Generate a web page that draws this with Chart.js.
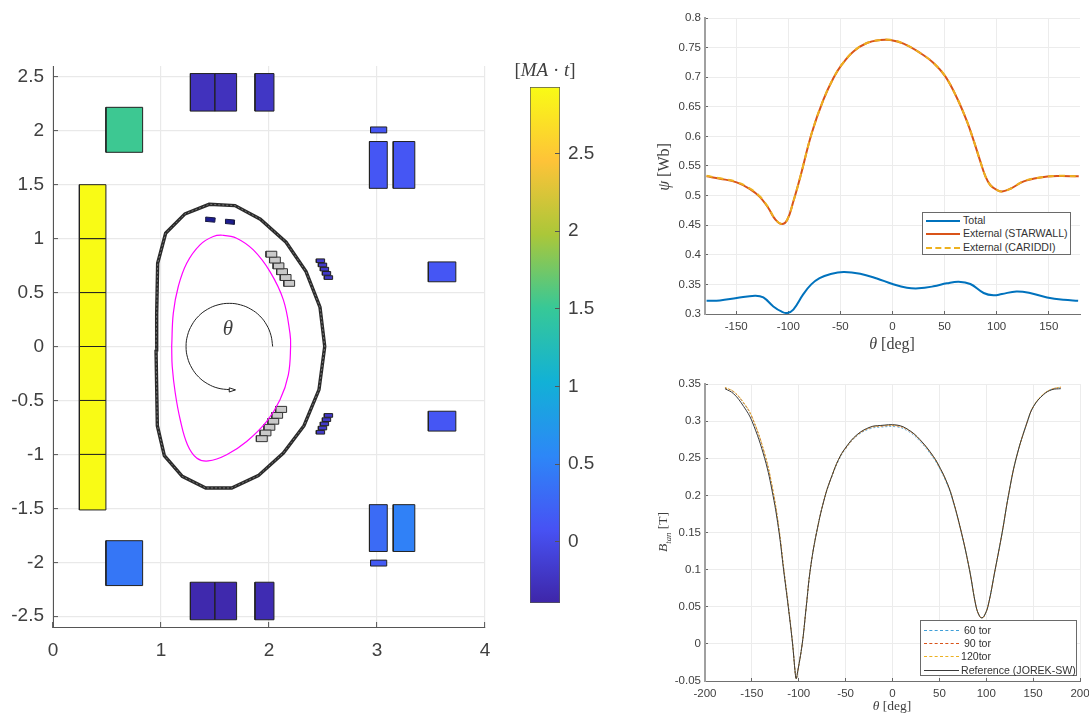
<!DOCTYPE html>
<html>
<head>
<meta charset="utf-8">
<script src="https://cdn.jsdelivr.net/npm/chart.js@4/dist/chart.umd.min.js"></script>
<style>
  html, body { margin: 0; padding: 0; background: #fff; }
  #page { position: relative; width: 1089px; height: 713px; overflow: hidden; }
  canvas { position: absolute; }
  .math { position: absolute; font-family: "Liberation Serif", serif; color: #404040; white-space: pre; line-height: 1; transform: translate(-50%, -50%); }
  .math sub { font-size: 0.65em; line-height: 0; }
  .rot { transform: translate(-50%, -50%) rotate(-90deg); }
  .legend { position: absolute; background: #fff; border: 1px solid #6a6a6a; box-sizing: border-box; font: 10.6px "Liberation Sans", sans-serif; color: #333; }
  .legend div { position: absolute; white-space: pre; line-height: 13px; }
  .legend span { position: absolute; height: 0; }
</style>
</head>
<body>
<div id="page">
  <canvas id="machine" width="510" height="660" style="left:0;top:0"></canvas>
  <canvas id="colorbar" width="100" height="620" style="left:500px;top:40px"></canvas>
  <canvas id="flux" width="459" height="360" style="left:630px;top:0"></canvas>
  <canvas id="field" width="459" height="343" style="left:630px;top:370px"></canvas>

  <div class="math" style="left:228px;top:328px;font-size:21px"><i>θ</i></div>
  <div class="math" style="left:545px;top:69px;font-size:19px">[<i>MA</i> · <i>t</i>]</div>
  <div class="math rot" style="left:664px;top:167px;font-size:16px"><i>ψ</i> [Wb]</div>
  <div class="math" style="left:892px;top:344px;font-size:16px"><i>θ</i> [deg]</div>
  <div class="math rot" style="left:663px;top:532px;font-size:13.5px"><i>B</i><sub><i>tan</i></sub> [T]</div>
  <div class="math" style="left:892px;top:706px;font-size:13.5px"><i>θ</i> [deg]</div>

  <div class="legend" id="fluxLegend" style="left:922px;top:212px;width:149px;height:43px"></div>
  <div class="legend" id="fieldLegend" style="left:920px;top:620px;width:157px;height:56px"></div>
</div>
<script>
// machine cross-section: [R0, R1, Z0, Z1]
const coilRects = [
    [0.244, 0.49, 1.0, 1.5], [0.244, 0.49, 0.5, 1.0], [0.244, 0.49, 0, 0.5],
    [0.244, 0.49, -0.5, 0], [0.244, 0.49, -1.0, -0.5], [0.244, 0.49, -1.515, -1.0],
    [0.49, 0.83, 1.8, 2.217], [0.49, 0.83, -2.216, -1.8],
    [1.272, 1.497, 2.182, 2.53], [1.497, 1.7, 2.182, 2.53], [1.87, 2.046, 2.182, 2.53],
    [1.272, 1.497, -2.533, -2.185], [1.497, 1.7, -2.533, -2.185], [1.87, 2.046, -2.533, -2.185],
    [2.93, 3.095, 1.466, 1.9], [3.15, 3.35, 1.466, 1.9], [2.94, 3.09, 1.98, 2.035],
    [2.93, 3.095, -1.9, -1.466], [3.15, 3.35, -1.9, -1.466], [2.94, 3.09, -2.035, -1.98],
    [3.475, 3.73, 0.6, 0.784], [3.475, 3.73, -0.784, -0.6],
    [2.438, 2.515, 0.778, 0.812], [2.457, 2.534, 0.739, 0.773], [2.475, 2.552, 0.7, 0.734],
    [2.494, 2.571, 0.661, 0.695], [2.512, 2.589, 0.622, 0.656],
    [2.438, 2.515, -0.812, -0.778], [2.457, 2.534, -0.773, -0.739], [2.475, 2.552, -0.734, -0.7],
    [2.494, 2.571, -0.695, -0.661], [2.512, 2.589, -0.656, -0.622]
];
const coilCurrents = [
    2.927, 2.927, 2.927, 2.927, 2.927, 2.927,
    1.53, 0.4,
    -0.26, -0.26, -0.21,
    -0.36, -0.36, -0.33,
    0.12, 0.12, 0.12,
    0.3, 0.5, 0.15,
    0.12, 0.12,
    -0.19, -0.19, -0.19, -0.19, -0.19,
    -0.19, -0.19, -0.19, -0.19, -0.19
];
const greyRects = [
    [1.972, 2.072, 0.828, 0.883], [2.005, 2.105, 0.774, 0.829], [2.038, 2.138, 0.72, 0.775],
    [2.071, 2.171, 0.666, 0.721], [2.104, 2.204, 0.612, 0.667], [2.137, 2.237, 0.558, 0.613],
    [1.883, 1.984, -0.882, -0.827], [1.917, 2.018, -0.828, -0.775], [1.953, 2.054, -0.776, -0.722],
    [1.99, 2.09, -0.72, -0.667], [2.026, 2.126, -0.665, -0.612], [2.062, 2.163, -0.611, -0.555]
];
const divertorR = [1.414, 1.502, 1.498, 1.41, 1.414];
const divertorZ = [1.2, 1.192, 1.152, 1.16, 1.2];
const divertor2R = [1.597, 1.682, 1.678, 1.593, 1.597];
const divertor2Z = [1.18, 1.172, 1.132, 1.14, 1.18];

const wallR = [0.954, 0.96, 0.969, 1.043, 1.222, 1.446, 1.685, 1.92, 2.158, 2.343, 2.472, 2.516, 2.463, 2.324, 2.133, 1.901, 1.655, 1.414, 1.197, 1.031, 0.966, 0.954];
const wallZ = [-0.03, 0.3, 0.772, 1.05, 1.229, 1.318, 1.306, 1.18, 0.967, 0.694, 0.365, 0, -0.4, -0.734, -0.987, -1.197, -1.311, -1.311, -1.204, -1.012, -0.734, -0.03];
const plasmaR = [1.099, 1.114, 1.16, 1.238, 1.361, 1.484, 1.571, 1.7, 1.855, 2.009, 2.133, 2.194, 2.2, 2.179, 2.102, 1.979, 1.793, 1.608, 1.438, 1.33, 1.245, 1.178, 1.132, 1.104, 1.099];
const plasmaZ = [0, 0.309, 0.556, 0.772, 0.942, 1.019, 1.031, 1.004, 0.895, 0.694, 0.432, 0.124, 0, -0.262, -0.494, -0.694, -0.88, -1.003, -1.061, -1.033, -0.91, -0.679, -0.431, -0.185, 0];
const arcR = [2.034, 2.018, 1.978, 1.915, 1.832, 1.736, 1.632, 1.528, 1.432, 1.349, 1.286, 1.246, 1.232, 1.246, 1.286, 1.349, 1.432, 1.528, 1.632, 1.685];
const arcZ = [0, 0.104, 0.2, 0.283, 0.346, 0.386, 0.4, 0.386, 0.346, 0.283, 0.2, 0.104, 0, -0.104, -0.2, -0.283, -0.346, -0.386, -0.4, -0.402];
const arrowR = [1.632, 1.69, 1.632, 1.632];
const arrowZ = [-0.383, -0.402, -0.422, -0.383];

const machineRTicks = [0, 1, 2, 3, 4];
const machineZTicks = [-2.5, -2, -1.5, -1, -0.5, 0, 0.5, 1, 1.5, 2, 2.5];
const colorbarTicks = [0, 0.5, 1, 1.5, 2, 2.5];
const colorbarRange = [-0.394, 2.927];
const parulaStops = ["#3E26A8", "#4752F4", "#2D87F7", "#12B1D6", "#37C897", "#ABC739", "#FEC338", "#F9FB15"];

// top right: poloidal flux along the contour
const totalTheta = [-178.5, -165.7, -149.6, -132, -124, -114.4, -106.3, -101, -95.2, -85.6, -78, -70, -60, -47, -31, -15, 0, 13.8, 25, 39.4, 52.2, 63.5, 74.7, 87.5, 97, 105, 119, 132, 148.4, 164.4, 178.2];
const totalPsi = [0.3225, 0.323, 0.327, 0.331, 0.328, 0.3128, 0.3039, 0.3017, 0.3073, 0.3335, 0.35, 0.3605, 0.3672, 0.371, 0.368, 0.36, 0.3507, 0.3445, 0.3434, 0.3467, 0.3518, 0.3546, 0.3507, 0.3355, 0.3315, 0.3338, 0.338, 0.3355, 0.328, 0.324, 0.3225];
const externalTheta = [-178.5, -165.7, -149.6, -136.8, -127.2, -119.2, -112.8, -106.3, -101, -95.2, -88.8, -77.5, -66.3, -56.7, -48.7, -37.5, -24.6, -11.8, -2.2, 10.6, 26.6, 39.4, 50.7, 61.9, 71.5, 78, 84, 89, 94, 100.4, 105.2, 113.2, 126, 140.4, 158, 178.8];
const starwallPsi = [0.5325, 0.5286, 0.5224, 0.511, 0.4975, 0.479, 0.4605, 0.452, 0.4593, 0.49, 0.5297, 0.6057, 0.662, 0.6986, 0.7211, 0.7436, 0.7578, 0.7628, 0.7628, 0.7566, 0.7409, 0.724, 0.7014, 0.6649, 0.6253, 0.5925, 0.5595, 0.5335, 0.5175, 0.5095, 0.5071, 0.5116, 0.524, 0.5303, 0.5331, 0.5325];
const cariddiPsi = [0.5335, 0.5292, 0.523, 0.512, 0.4985, 0.48, 0.4608, 0.4522, 0.4595, 0.49, 0.5297, 0.6057, 0.662, 0.6986, 0.7211, 0.7436, 0.7578, 0.7628, 0.7632, 0.7566, 0.7409, 0.724, 0.7014, 0.6649, 0.6253, 0.5925, 0.5595, 0.5335, 0.5175, 0.5095, 0.5068, 0.5116, 0.5245, 0.5303, 0.5335, 0.5325];
const fluxThetaTicks = [-150, -100, -50, 0, 50, 100, 150];
const fluxPsiTicks = [0.3, 0.35, 0.4, 0.45, 0.5, 0.55, 0.6, 0.65, 0.7, 0.75, 0.8];

// bottom right: tangential field along the contour
const fieldTheta = [-178.7, -169.5, -158.8, -149.9, -136.4, -127.5, -121, -116.2, -111.2, -106.6, -103.7, -102.7, -101.5, -96.3, -92, -87.7, -81, -71.7, -64, -57.5, -50.4, -38, -23.8, -13.1, 4.7, 17.1, 29.5, 43.7, 50.9, 57, 63, 73.5, 82.1, 89.2, 93, 95.3, 97.5, 101.7, 109.5, 117, 123.7, 131.9, 144, 150.5, 161, 170, 179.5];
const referenceB = [0.3437, 0.3369, 0.3198, 0.3, 0.25, 0.2, 0.15, 0.1, 0.05, 0, -0.04, -0.047, -0.04, 0, 0.05, 0.1, 0.15, 0.2, 0.2285, 0.2485, 0.2636, 0.2816, 0.292, 0.2941, 0.2947, 0.2883, 0.2748, 0.2523, 0.2366, 0.2205, 0.2, 0.15, 0.1, 0.05, 0.037, 0.035, 0.037, 0.05, 0.1, 0.15, 0.2, 0.25, 0.3, 0.32, 0.3356, 0.3423, 0.3437];
const tor120B = [0.3452, 0.34, 0.325, 0.306, 0.2565, 0.2065, 0.1545, 0.103, 0.052, 0.001, -0.04, -0.047, -0.04, 0, 0.05, 0.1, 0.15, 0.2, 0.2285, 0.2485, 0.263, 0.281, 0.2915, 0.2935, 0.294, 0.288, 0.2745, 0.252, 0.2362, 0.2202, 0.2, 0.15, 0.1, 0.05, 0.037, 0.035, 0.037, 0.05, 0.1, 0.15, 0.2, 0.25, 0.3, 0.3205, 0.3365, 0.343, 0.346];
const tor90B = [0.345, 0.3395, 0.3245, 0.3055, 0.256, 0.206, 0.154, 0.103, 0.052, 0.001, -0.04, -0.047, -0.04, 0, 0.05, 0.1, 0.15, 0.2, 0.228, 0.248, 0.2625, 0.2805, 0.291, 0.293, 0.2935, 0.2875, 0.274, 0.2515, 0.2358, 0.22, 0.2, 0.15, 0.1, 0.05, 0.037, 0.035, 0.037, 0.05, 0.1, 0.15, 0.2, 0.25, 0.3, 0.32, 0.336, 0.343, 0.3455];
const tor60B = [0.345, 0.3395, 0.324, 0.305, 0.2555, 0.2055, 0.1535, 0.1025, 0.0515, 0.0005, -0.04, -0.047, -0.04, 0, 0.05, 0.1, 0.15, 0.1995, 0.2275, 0.247, 0.262, 0.28, 0.2898, 0.2918, 0.2922, 0.286, 0.2725, 0.25, 0.2345, 0.2185, 0.1985, 0.1495, 0.1, 0.05, 0.037, 0.035, 0.037, 0.05, 0.1, 0.15, 0.2, 0.25, 0.3, 0.32, 0.336, 0.343, 0.3455];
const fieldThetaTicks = [-200, -150, -100, -50, 0, 50, 100, 150, 200];
const fieldBTicks = [-0.05, 0, 0.05, 0.1, 0.15, 0.2, 0.25, 0.3, 0.35];

const TICK_FONT = "Liberation Sans";
const TEXT = "#404040";

const points = (xs, ys) => xs.map((x, i) => ({ x, y: ys[i] }));
const rectPoints = ([r0, r1, z0, z1]) => [{ x: r0, y: z0 }, { x: r1, y: z0 }, { x: r1, y: z1 }, { x: r0, y: z1 }, { x: r0, y: z0 }];

function hexToRgb(hex) {
    return [1, 3, 5].map(i => parseInt(hex.slice(i, i + 2), 16));
}

// colour of a current value on the colour bar
function parula(value) {
    const t = (value - colorbarRange[0]) / (colorbarRange[1] - colorbarRange[0]);
    const pos = Math.min(Math.max(t, 0), 1) * (parulaStops.length - 1);
    const i = Math.min(Math.floor(pos), parulaStops.length - 2);
    const a = hexToRgb(parulaStops[i]);
    const b = hexToRgb(parulaStops[i + 1]);
    const mix = a.map((c, k) => Math.round(c + (b[k] - c) * (pos - i)));
    return `rgb(${mix.join(",")})`;
}

function polygon(data, fillColor, edgeColor, width) {
    return { data, showLine: true, fill: "shape", backgroundColor: fillColor, borderColor: edgeColor, borderWidth: width, pointRadius: 0, tension: 0 };
}

function curve(data, color, width, extra) {
    return Object.assign({ data, showLine: true, fill: false, borderColor: color, borderWidth: width, pointRadius: 0, tension: 0.4 }, extra);
}

// fixed axis thickness so the plot area lands where the reference has it
function axisCallbacks(tickValues, thickness) {
    return {
        afterBuildTicks: scale => { scale.ticks = tickValues.map(value => ({ value })); },
        afterFit: scale => {
            if (scale.isHorizontal()) scale.height = thickness; else scale.width = thickness;
            scale.paddingLeft = scale.paddingRight = scale.paddingTop = scale.paddingBottom = 0;
        }
    };
}

function linearAxis(min, max, tickValues, thickness, style) {
    return Object.assign({
        type: "linear",
        min,
        max,
        grid: { color: style.grid, lineWidth: style.gridWidth, tickColor: style.tick, tickWidth: 1, tickLength: -style.tickLength },
        border: { color: style.border, width: style.borderWidth },
        ticks: {
            color: TEXT,
            font: { family: TICK_FONT, size: style.fontSize },
            padding: style.padding,
            autoSkip: false,
            maxRotation: 0,
            callback: value => String(value)
        }
    }, axisCallbacks(tickValues, thickness));
}

function baseOptions(padding, scales) {
    return {
        responsive: false,
        animation: false,
        devicePixelRatio: 1,
        layout: { padding },
        plugins: { legend: { display: false }, tooltip: { enabled: false } },
        scales
    };
}

// machine panel
const machineDatasets = [
    polygon(points(arrowR, arrowZ), "#ffffff", "#222222", 1),
    curve(points(arcR, arcZ), "#222222", 1),
    curve(points(plasmaR, plasmaZ), "#FF00FF", 1.2),
    curve(points(wallR, wallZ), "#777777", 1, { tension: 0, borderDash: [2, 2] }),
    curve(points(wallR, wallZ), "#2a2a2a", 3.4, { tension: 0 }),
    polygon(points(divertorR, divertorZ), "#1c1c90", "#1a1a40", 1),
    polygon(points(divertor2R, divertor2Z), "#1c1c90", "#1a1a40", 1)
];
greyRects.forEach(r => machineDatasets.push(polygon(rectPoints(r), "#c9c9c9", "#333333", 1)));
coilRects.forEach((r, i) => machineDatasets.push(polygon(rectPoints(r), parula(coilCurrents[i]), "#222222", 1)));

const machineStyle = { grid: "#e9e9e9", gridWidth: 1.2, tick: "#555555", tickLength: 5, border: "#555555", borderWidth: 1, fontSize: 19 };

new Chart(document.getElementById("machine"), {
    type: "scatter",
    data: { datasets: machineDatasets },
    options: baseOptions({ top: 66, right: 25, bottom: 0, left: 0 }, {
        x: linearAxis(0, 4, machineRTicks, 33, Object.assign({}, machineStyle, { padding: 17 })),
        y: linearAxis(-2.6, 2.6, machineZTicks, 53, Object.assign({}, machineStyle, { padding: 14 }))
    })
});

// colour bar
const barScale = axisCallbacks(colorbarTicks, 40);
new Chart(document.getElementById("colorbar"), {
    type: "bar",
    data: {
        labels: [""],
        datasets: [{
            data: [colorbarRange],
            barPercentage: 1,
            categoryPercentage: 1,
            borderColor: "#555555",
            borderWidth: 1,
            borderSkipped: false,
            backgroundColor: ctx => {
                const area = ctx.chart.chartArea;
                if (!area) return parulaStops[0];
                const gradient = ctx.chart.ctx.createLinearGradient(0, area.bottom, 0, area.top);
                parulaStops.forEach((c, i) => gradient.addColorStop(i / (parulaStops.length - 1), c));
                return gradient;
            }
        }]
    },
    options: baseOptions({ top: 47, right: 0, bottom: 57, left: 30 }, {
        x: { display: false },
        y: Object.assign({
            type: "linear",
            position: "right",
            min: colorbarRange[0],
            max: colorbarRange[1],
            grid: { z: 1, drawOnChartArea: false, tickColor: "#555555", tickWidth: 1, tickLength: -5 },
            border: { display: false },
            ticks: { color: TEXT, font: { family: TICK_FONT, size: 19 }, padding: 13, autoSkip: false, callback: value => String(value) }
        }, barScale)
    })
});

const sideStyle = { grid: "#ececec", gridWidth: 1, tick: "#666666", tickLength: 3, border: "#a0a0a0", borderWidth: 2, fontSize: 11.5 };
const sideBottom = Object.assign({}, sideStyle, { border: "#707070", borderWidth: 1, padding: 9 });
const sideLeft = Object.assign({}, sideStyle, { padding: 7 });

function thetaCurve(label, xs, ys, color, width, dash) {
    return {
        label,
        data: points(xs, ys),
        showLine: true,
        fill: false,
        borderColor: color,
        borderWidth: width,
        borderDash: dash || [],
        pointRadius: 0,
        tension: 0.4
    };
}

// flux panel
const fluxDatasets = [
    thetaCurve("External (CARIDDI)", externalTheta, cariddiPsi, "#EDB120", 2, [6, 5]),
    thetaCurve("External (STARWALL)", externalTheta, starwallPsi, "#D95319", 2),
    thetaCurve("Total", totalTheta, totalPsi, "#0072BD", 2)
];
new Chart(document.getElementById("flux"), {
    type: "scatter",
    data: { datasets: fluxDatasets },
    options: baseOptions({ top: 18, right: 9, bottom: 0, left: 0 }, {
        x: linearAxis(-180, 180, fluxThetaTicks, 46, sideBottom),
        y: linearAxis(0.3, 0.8, fluxPsiTicks, 75, sideLeft)
    })
});

// field panel
const fieldDatasets = [
    thetaCurve("Reference (JOREK-SW)", fieldTheta, referenceB, "#3a3a3a", 1),
    thetaCurve("120tor", fieldTheta, tor120B, "#EDB120", 0.8, [2, 1]),
    thetaCurve(" 90 tor", fieldTheta, tor90B, "#D95319", 0.8, [2, 2]),
    thetaCurve(" 60 tor", fieldTheta, tor60B, "#3f9fd8", 0.8, [2, 2])
];
new Chart(document.getElementById("field"), {
    type: "scatter",
    data: { datasets: fieldDatasets },
    options: baseOptions({ top: 14, right: 9, bottom: 0, left: 0 }, {
        x: linearAxis(-200, 200, fieldThetaTicks, 32, sideBottom),
        y: linearAxis(-0.05, 0.35, fieldBTicks, 75, sideLeft)
    })
});

// the legends sit inside the axes, so they are placed by hand
function buildLegend(id, datasets, rowTops, swatch, textLeft) {
    const box = document.getElementById(id);
    datasets.forEach((ds, i) => {
        const row = document.createElement("div");
        row.textContent = ds.label;
        row.style.left = textLeft + "px";
        row.style.top = rowTops[i] + "px";
        box.appendChild(row);
        const line = document.createElement("span");
        line.style.left = swatch[0] + "px";
        line.style.width = swatch[1] + "px";
        line.style.top = (rowTops[i] + 6) + "px";
        line.style.borderTop = `${ds.borderWidth}px ${ds.borderDash.length ? "dashed" : "solid"} ${ds.borderColor}`;
        box.appendChild(line);
    });
}
buildLegend("fluxLegend", fluxDatasets.slice().reverse(), [0.5, 14, 27.5], [3, 34], 40);
buildLegend("fieldLegend", fieldDatasets.slice().reverse(), [2.8, 16.2, 29.2, 42.5], [3, 35], 40);
</script>
</body>
</html>
